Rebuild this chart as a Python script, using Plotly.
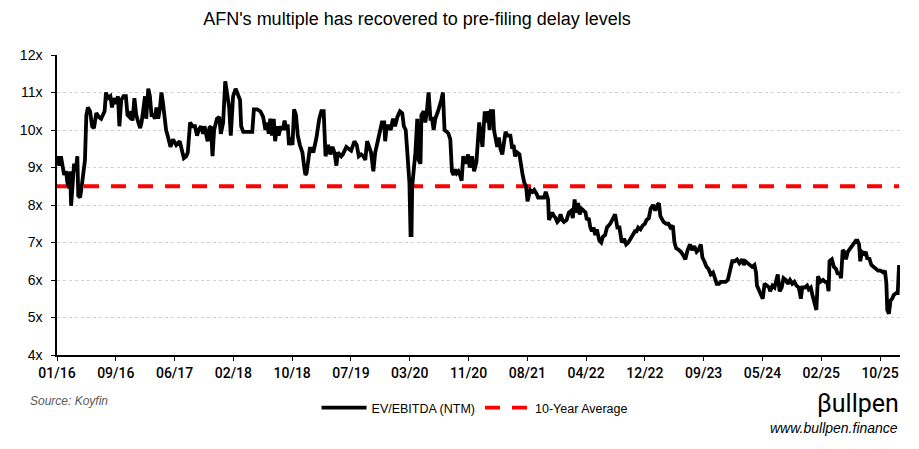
import plotly.graph_objects as go
import pandas as pd

title_text = "AFN's multiple has recovered to pre-filing delay levels"
series_name = "EV/EBITDA (NTM)"
avg_name = "10-Year Average"
avg_value = 8.5

dates = [
    "2016-01-04", "2016-01-14", "2016-01-21", "2016-01-28", "2016-02-04", "2016-02-12", "2016-02-18",
    "2016-02-26", "2016-03-01", "2016-03-05", "2016-03-11", "2016-03-18", "2016-03-25", "2016-04-01",
    "2016-04-05", "2016-04-13", "2016-04-20", "2016-04-26", "2016-05-04", "2016-05-10", "2016-05-17",
    "2016-05-26", "2016-06-04", "2016-06-12", "2016-06-22", "2016-07-03", "2016-07-13", "2016-07-28",
    "2016-08-03", "2016-08-11", "2016-08-22", "2016-08-29", "2016-09-05", "2016-09-15", "2016-09-24",
    "2016-09-30", "2016-10-08", "2016-10-18", "2016-10-28", "2016-11-04", "2016-11-12", "2016-11-20",
    "2016-11-26", "2016-12-04", "2016-12-12", "2016-12-21", "2016-12-29",
    "2017-01-04", "2017-01-11", "2017-01-19", "2017-01-24", "2017-02-02", "2017-02-09", "2017-02-16",
    "2017-02-23", "2017-03-03", "2017-03-09", "2017-03-17", "2017-03-24", "2017-03-31", "2017-04-07",
    "2017-04-14", "2017-04-20", "2017-04-29", "2017-05-09", "2017-05-20", "2017-06-03", "2017-06-18",
    "2017-06-24", "2017-07-06", "2017-07-16", "2017-07-23", "2017-08-02", "2017-08-13", "2017-08-23",
    "2017-09-01", "2017-09-08", "2017-09-18", "2017-09-27", "2017-10-03", "2017-10-17", "2017-10-24",
    "2017-10-31", "2017-11-07", "2017-11-14", "2017-11-26", "2017-12-06", "2017-12-13", "2017-12-23",
    "2018-01-01", "2018-01-11", "2018-01-18", "2018-01-25", "2018-02-04", "2018-02-15", "2018-02-25",
    "2018-03-06", "2018-03-11", "2018-03-20", "2018-03-30", "2018-04-13", "2018-04-28", "2018-05-05",
    "2018-05-19", "2018-06-02", "2018-06-14", "2018-06-24", "2018-07-01", "2018-07-08", "2018-07-15",
    "2018-07-22", "2018-07-30", "2018-08-05", "2018-08-13", "2018-08-20", "2018-08-30", "2018-09-07",
    "2018-09-15", "2018-09-22", "2018-09-28", "2018-10-04", "2018-10-12", "2018-10-19", "2018-10-26",
    "2018-11-03", "2018-11-11", "2018-11-20", "2018-12-01", "2018-12-09", "2018-12-14", "2018-12-19",
    "2018-12-26",
    "2019-01-02", "2019-01-10", "2019-01-17", "2019-01-24", "2019-01-31", "2019-02-12", "2019-02-21",
    "2019-03-03", "2019-03-11", "2019-03-22", "2019-04-01", "2019-04-10", "2019-04-19", "2019-04-27",
    "2019-05-04", "2019-05-18", "2019-05-25", "2019-06-09", "2019-06-20", "2019-06-30", "2019-07-14",
    "2019-07-24", "2019-08-02", "2019-08-12", "2019-08-22", "2019-08-30", "2019-09-07", "2019-09-17",
    "2019-09-24", "2019-10-04", "2019-10-12", "2019-10-23", "2019-11-01", "2019-11-10", "2019-11-20",
    "2019-11-24", "2019-12-01", "2019-12-11", "2019-12-18", "2019-12-28",
    "2020-01-06", "2020-01-16", "2020-01-27", "2020-02-06", "2020-02-13", "2020-02-21", "2020-02-28",
    "2020-03-04", "2020-03-08", "2020-03-13", "2020-03-17", "2020-03-20", "2020-03-27", "2020-04-03",
    "2020-04-11", "2020-04-17", "2020-04-25", "2020-04-29", "2020-05-09", "2020-05-16", "2020-05-24",
    "2020-05-30", "2020-06-07", "2020-06-14", "2020-06-21", "2020-06-28", "2020-07-10", "2020-07-16",
    "2020-07-24", "2020-07-31", "2020-08-07", "2020-08-17", "2020-08-24", "2020-09-01", "2020-09-08",
    "2020-09-15", "2020-09-22", "2020-09-29", "2020-10-06", "2020-10-13", "2020-10-20", "2020-10-27",
    "2020-11-07", "2020-11-17", "2020-11-24", "2020-12-04", "2020-12-13", "2020-12-23",
    "2021-01-04", "2021-01-11", "2021-01-18", "2021-01-28", "2021-02-04", "2021-02-11", "2021-02-18",
    "2021-02-23", "2021-03-05", "2021-03-09", "2021-03-15", "2021-03-23", "2021-03-30", "2021-04-06",
    "2021-04-14", "2021-04-21", "2021-04-28", "2021-05-08", "2021-05-19", "2021-05-27", "2021-06-02",
    "2021-06-08", "2021-06-17", "2021-06-27", "2021-07-04", "2021-07-11", "2021-07-18", "2021-07-26",
    "2021-08-01", "2021-08-13", "2021-08-23", "2021-08-30", "2021-09-09", "2021-09-16", "2021-09-25",
    "2021-10-05", "2021-10-12", "2021-10-19", "2021-10-29", "2021-11-02", "2021-11-10", "2021-11-16",
    "2021-11-24", "2021-12-01", "2021-12-08", "2021-12-15", "2021-12-22", "2021-12-30",
    "2022-01-06", "2022-01-17", "2022-01-27", "2022-02-06", "2022-02-13", "2022-02-21", "2022-02-27",
    "2022-03-08", "2022-03-15", "2022-03-23", "2022-04-01", "2022-04-09", "2022-04-15", "2022-04-23",
    "2022-04-30", "2022-05-07", "2022-05-14", "2022-05-21", "2022-05-28", "2022-06-08", "2022-06-16",
    "2022-06-23", "2022-07-03", "2022-07-11", "2022-07-25", "2022-08-04", "2022-08-15", "2022-08-25",
    "2022-09-03", "2022-09-13", "2022-09-23", "2022-10-02", "2022-10-11", "2022-10-21", "2022-11-02",
    "2022-11-09", "2022-11-16", "2022-11-23", "2022-12-03", "2022-12-12", "2022-12-22", "2022-12-29",
    "2023-01-08", "2023-01-16", "2023-01-26", "2023-02-05", "2023-02-14", "2023-02-21", "2023-02-27",
    "2023-03-07", "2023-03-13", "2023-03-24", "2023-04-03", "2023-04-12", "2023-04-22", "2023-04-29",
    "2023-05-06", "2023-05-18", "2023-05-27", "2023-06-07", "2023-06-15", "2023-06-25", "2023-07-05",
    "2023-07-14", "2023-07-24", "2023-08-03", "2023-08-11", "2023-08-21", "2023-08-28", "2023-09-05",
    "2023-09-15", "2023-09-23", "2023-10-03", "2023-10-13", "2023-10-22", "2023-10-29", "2023-11-08",
    "2023-11-15", "2023-11-25", "2023-12-06", "2023-12-16", "2023-12-25",
    "2024-01-04", "2024-01-14", "2024-01-25", "2024-02-04", "2024-02-16", "2024-02-23", "2024-03-01",
    "2024-03-11", "2024-03-20", "2024-03-30", "2024-04-09", "2024-04-16", "2024-04-20", "2024-04-30",
    "2024-05-09", "2024-05-15", "2024-05-23", "2024-06-02", "2024-06-12", "2024-06-16", "2024-06-26",
    "2024-07-05", "2024-07-11", "2024-07-19", "2024-07-27", "2024-08-05", "2024-08-13", "2024-08-23",
    "2024-09-01", "2024-09-10", "2024-09-20", "2024-09-29", "2024-10-08", "2024-10-18", "2024-10-27",
    "2024-11-02", "2024-11-13", "2024-11-23", "2024-11-30", "2024-12-09", "2024-12-16", "2024-12-26",
    "2025-01-02", "2025-01-09", "2025-01-19", "2025-01-31", "2025-02-09", "2025-02-18", "2025-02-24",
    "2025-02-28", "2025-03-10", "2025-03-19", "2025-03-28", "2025-04-05", "2025-04-12", "2025-04-19",
    "2025-04-26", "2025-05-03", "2025-05-10", "2025-05-18", "2025-05-24", "2025-06-01", "2025-06-12",
    "2025-06-22", "2025-06-29", "2025-07-06", "2025-07-11", "2025-07-18", "2025-07-28", "2025-08-04",
    "2025-08-11", "2025-08-18", "2025-08-28", "2025-09-06", "2025-09-16", "2025-09-26", "2025-10-07",
    "2025-10-19", "2025-10-26", "2025-11-01", "2025-11-05", "2025-11-12", "2025-11-19", "2025-11-26",
    "2025-12-03", "2025-12-13", "2025-12-20", "2025-12-26",
]

ev_ebitda = [
    9.3, 9.05, 9.3, 9.0, 8.8, 8.9, 8.6,
    8.45, 8.9, 7.98, 8.7, 9.1, 8.9, 9.3,
    8.25, 8.2, 8.5, 8.9, 9.2, 10.4, 10.6,
    10.5, 10.1, 10.05, 10.45, 10.35, 10.3, 10.5,
    11.0, 10.85, 10.9, 10.6, 10.85, 10.7, 10.9,
    10.1, 10.8, 10.9, 10.9, 10.4, 10.35, 10.5,
    10.25, 10.85, 10.4, 10.2, 10.05,
    10.2, 10.6, 10.9, 10.3, 11.1, 10.9, 10.4,
    10.4, 10.3, 10.6, 10.3, 10.55, 11.0, 10.7,
    10.4, 10.0, 9.8, 9.55, 9.75, 9.6, 9.7,
    9.55, 9.25, 9.3, 9.4, 10.2, 10.1, 10.1,
    9.85, 10.0, 10.1, 9.9, 10.1, 9.7, 10.05,
    10.1, 9.3, 10.0, 10.3, 10.35, 9.9, 10.2,
    11.3, 10.9, 10.6, 9.85, 10.9, 11.1, 10.9,
    10.8, 10.1, 9.95, 9.95, 9.95, 9.95, 10.55,
    10.55, 10.5, 10.35, 10.0, 10.2, 9.9, 10.3,
    9.85, 10.3, 9.7, 10.1, 9.85, 10.1, 10.0,
    10.25, 10.0, 10.15, 9.6, 9.8, 9.6, 10.55,
    10.4, 9.85, 9.6, 9.4, 9.0, 8.8, 8.85,
    9.15,
    9.5, 9.5, 9.4, 9.6, 9.8, 10.3, 10.5,
    10.5, 9.3, 9.6, 9.35, 9.55, 9.4, 9.05,
    9.4, 9.3, 9.35, 9.55, 9.5, 9.45, 9.7,
    9.6, 9.3, 9.35, 9.3, 9.2, 9.7, 9.5,
    9.4, 8.9, 9.4, 9.7, 10.0, 10.2, 10.2,
    9.7, 10.1, 10.1, 10.0, 10.3,
    10.1, 10.35, 10.5, 10.45, 10.1, 10.0, 9.4,
    9.05, 8.6, 7.2, 7.2, 8.5, 9.0, 9.4,
    10.3, 9.2, 9.1, 10.4, 10.5, 10.2, 10.6,
    11.0, 10.3, 10.3, 10.0, 10.3, 10.5, 10.6,
    10.8, 11.0, 10.0, 9.95, 9.9, 9.75, 8.9,
    8.8, 8.95, 8.85, 8.9, 8.8, 8.65, 9.3,
    9.1, 9.35, 9.0, 9.3, 8.9, 9.15,
    10.2, 9.9, 9.55, 10.5, 10.2, 10.5, 10.0,
    10.5, 10.5, 10.0, 9.8, 9.55, 9.8, 9.5,
    9.35, 9.7, 9.95, 9.85, 9.85, 9.5, 9.6,
    9.3, 9.4, 9.35, 9.0, 8.8, 8.6, 8.5,
    8.1, 8.4, 8.35, 8.4, 8.3, 8.2, 8.2,
    8.2, 8.2, 8.35, 8.15, 7.6, 7.7, 7.8,
    7.7, 7.65, 7.55, 7.6, 7.75, 7.6,
    7.55, 7.6, 7.8, 7.85, 7.65, 8.15, 7.8,
    8.05, 7.75, 7.9, 7.85, 7.8, 7.6, 7.65,
    7.4, 7.3, 7.4, 7.2, 7.35, 7.05, 7.0,
    7.15, 7.2, 7.4, 7.5, 7.6, 7.75, 7.4,
    7.4, 7.0, 7.1, 6.95, 7.0, 7.1, 7.2,
    7.3, 7.3, 7.4, 7.35, 7.45, 7.5, 7.6,
    7.65, 7.9, 8.0, 7.85, 8.0, 8.05, 7.7,
    7.6, 7.55, 7.5, 7.5, 7.4, 7.45, 7.0,
    6.85, 6.8, 6.75, 6.65, 6.55, 6.8, 6.95,
    6.8, 6.9, 6.75, 6.8, 6.95, 6.6, 6.5,
    6.35, 6.3, 6.15, 6.2, 6.05, 5.9, 5.9,
    5.95, 5.95, 5.95, 6.0, 6.3,
    6.5, 6.5, 6.55, 6.45, 6.55, 6.4, 6.5,
    6.45, 6.4, 6.35, 6.4, 6.2, 5.85, 5.7,
    5.6, 5.5, 5.9, 5.85, 5.8, 5.7, 5.85,
    5.8, 6.0, 6.15, 5.7, 5.8, 6.05, 6.0,
    5.9, 6.0, 5.9, 5.95, 5.85, 5.8, 5.5,
    5.8, 5.8, 5.85, 5.75, 5.8, 5.6, 5.35,
    5.2, 6.1, 5.95, 6.0, 5.95, 5.95, 5.7,
    6.5, 6.55, 6.35, 6.3, 6.15, 6.2, 6.05,
    6.8, 6.75, 6.55, 6.75, 6.8, 6.9, 6.95,
    7.05, 7.05, 6.95, 6.5, 6.75, 6.7, 6.75,
    6.55, 6.6, 6.4, 6.35, 6.3, 6.25, 6.25,
    6.2, 6.25, 5.9, 5.2, 5.1, 5.45, 5.5,
    5.6, 5.65, 5.65, 6.4,
]

tick_labels = ["01/16", "09/16", "06/17", "02/18", "10/18", "07/19", "03/20", "11/20",
               "08/21", "04/22", "12/22", "09/23", "05/24", "02/25", "10/25"]
y_ticks = [4, 5, 6, 7, 8, 9, 10, 11, 12]

x_dates = pd.to_datetime(dates)
axis_start = pd.Timestamp("2016-01-04")
axis_end = pd.Timestamp("2025-12-30")
tick_step_days = 254.4
tick_vals = [axis_start + pd.Timedelta(days=tick_step_days * k) for k in range(len(tick_labels))]

# the page body adds an 8px margin, so the figure is sized to fit the window
W, H = 911, 441
OFF = 8
ML, MR, MT, MB = 40, 19, 47, 94
PW, PH = W - ML - MR, H - MT - MB


def px_x(X):
    return (X - OFF - ML) / PW


def px_y(Y):
    return 1 - (Y - OFF - MT) / PH


fig = go.Figure()
fig.add_trace(go.Scatter(
    x=[x_dates[0], x_dates[-1]], y=[avg_value, avg_value], mode="lines", name=avg_name,
    line=dict(color="#ff0000", width=3.8, dash="15px,12px"),
))
fig.add_trace(go.Scatter(
    x=x_dates, y=ev_ebitda, mode="lines", name=series_name,
    line=dict(color="#000000", width=3.8),
))

base_font = "Liberation Sans, Arial, sans-serif"

fig.update_layout(
    width=W, height=H,
    paper_bgcolor="white", plot_bgcolor="white",
    margin=dict(l=ML, r=MR, t=MT, b=MB),
    font=dict(family=base_font, size=13, color="#000000"),
    showlegend=True,
    legend=dict(
        orientation="h", x=px_x(470), xanchor="center", y=px_y(408), yanchor="middle",
        font=dict(size=12.5, color="#000000"), itemwidth=45, tracegroupgap=0,
        traceorder="reversed", bgcolor="rgba(0,0,0,0)",
    ),
    title=dict(
        text=title_text, x=(417 - OFF) / W, xanchor="center", y=1 - (19 - OFF) / H, yanchor="middle",
        font=dict(family=base_font, size=18, color="#000000"),
    ),
    xaxis=dict(
        type="date", range=[axis_start, axis_end],
        tickmode="array", tickvals=tick_vals, ticktext=tick_labels,
        showgrid=False, zeroline=False,
        showline=True, linecolor="#000000", linewidth=1.5,
        ticks="outside", ticklen=4, tickwidth=1, tickcolor="#000000",
        tickfont=dict(family="Roboto, Liberation Sans, sans-serif", size=14, color="#000000", weight=500),
    ),
    yaxis=dict(
        range=[4, 12], tickmode="array", tickvals=y_ticks,
        ticktext=[f"{v}x" for v in y_ticks],
        showgrid=True, gridcolor="#d0d0d0", griddash="dot", gridwidth=1,
        zeroline=False,
        showline=True, linecolor="#000000", linewidth=1.5,
        ticks="outside", ticklen=4, tickwidth=1, tickcolor="#000000",
        ticklabelstandoff=6,
        tickfont=dict(size=14, color="#000000"),
    ),
)

fig.add_annotation(
    text="<i>Source: Koyfin</i>", xref="paper", yref="paper",
    x=px_x(19), xanchor="left", y=px_y(400.5), yanchor="middle",
    showarrow=False, font=dict(size=12, color="#595959"),
)
fig.add_annotation(
    text="βullpen", xref="paper", yref="paper",
    x=px_x(901), xanchor="right", y=px_y(403), yanchor="middle",
    showarrow=False, font=dict(family="Roboto, Liberation Sans, sans-serif", size=25, color="#000000"),
)
fig.add_annotation(
    text="<i>www.bullpen.finance</i>", xref="paper", yref="paper",
    x=px_x(900), xanchor="right", y=px_y(428), yanchor="middle",
    showarrow=False, font=dict(size=14, color="#000000"),
)

fig.write_html("out.html")
